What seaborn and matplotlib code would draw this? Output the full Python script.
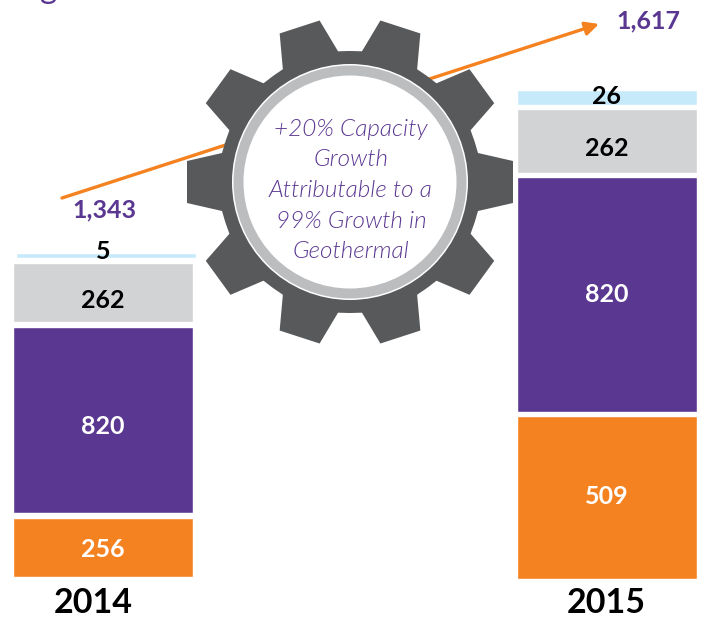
import matplotlib
matplotlib.use('Agg')
import matplotlib.pyplot as plt
from matplotlib.patches import Circle, Polygon
from matplotlib.transforms import ScaledTranslation
import numpy as np
import seaborn as sns

sns.set_style('white')
plt.rcParams['font.family'] = ['Lato', 'DejaVu Sans']

years = ['2014', '2015']
sources = ['orange', 'purple', 'gray', 'blue']

# printed labels
labels_2014 = [256, 820, 262, 5]
labels_2015 = [509, 820, 262, 26]
totals = ['1,343', '1,617']

# the bars are not to scale in the original, so heights are read off the picture
heights_2014 = [59, 186, 59, 5.5]
heights_2015 = [163, 235, 64, 15]

colors = ['#F58220', '#5A3791', '#D1D3D4', '#C7EAFB']
text_colors = ['white', 'white', 'black', 'black']
purple = '#5A3791'

W, H = 702, 621
BASE = 579

fig = plt.figure(figsize=(W / 100, H / 100), dpi=100)
ax = fig.add_axes([0, (H - BASE) / H, 1, BASE / H])

# labels do not sit exactly mid segment
nudge_2014 = [0, -4, -6, 6]
nudge_2015 = [3, 2, -5, 3]

# stacked bars, small white gap between segments
bottom = np.array([2.0, 0.0])
gaps = [5, 4]
for s in range(4):
    h = np.array([heights_2014[s], heights_2015[s]], dtype=float)
    sns.barplot(x=years, y=h, bottom=bottom, color=colors[s], saturation=1,
                width=180 / 504, ax=ax)
    mid = bottom + h / 2 + [nudge_2014[s], nudge_2015[s]]
    for i, lab in enumerate([labels_2014[s], labels_2015[s]]):
        ax.text(i, mid[i], str(lab), ha='center', va='center_baseline',
                color=text_colors[s], fontsize=18, fontweight='bold')
    bottom = bottom + h + np.array(gaps)

# blue strip of 2014 sits a bit to the right
blue = ax.containers[-1][0]
blue.set_x(blue.get_x() + 3 / 504)

ax.set_xlim(-102.75 / 504, (W - 102.75) / 504)
ax.set_ylim(0, BASE)
ax.set_yticks([])
ax.tick_params(axis='x', length=0, pad=6)
ax.set_xticks([0, 1], years, fontsize=24.5, fontweight='bold', color='black')
ax.get_xticklabels()[0].set_transform(ax.get_xticklabels()[0].get_transform()
                                      + ScaledTranslation(-9 / 100, 0, fig.dpi_scale_trans))
sns.despine(ax=ax, left=True, bottom=True)

# overlay in pixel coordinates for the gear and the arrow
ov = fig.add_axes([0, 0, 1, 1], facecolor='none')
ov.set_xlim(0, W)
ov.set_ylim(H, 0)
ov.axis('off')

ov.annotate('', xy=(599, 24), xytext=(62, 198),
            arrowprops=dict(arrowstyle='-|>,head_length=0.8,head_width=0.4', color='#F58220',
                            lw=2.4, shrinkA=0, shrinkB=0))

cx, cy = 350, 182
pts = []
for a in np.arange(10) * 36.0:
    t = np.radians(a)
    rot = np.array([[np.cos(t), -np.sin(t)], [np.sin(t), np.cos(t)]])
    for p in [(128, -29), (163, -21), (163, 21), (128, 29)]:
        pts.append(rot @ np.array(p))
    # root arc to next tooth
    a0 = np.degrees(np.arctan2(29, 128))
    for b in np.linspace(a + a0, a + 36 - a0, 6)[1:-1]:
        pts.append(131 * np.array([np.cos(np.radians(b)), np.sin(np.radians(b))]))
pts = np.array(pts) + [cx, cy]
ov.add_patch(Polygon(pts, closed=True, facecolor='#58595B', edgecolor='none', zorder=3))
ov.add_patch(Circle((cx, cy), 118, facecolor='white', edgecolor='none', zorder=4))
ov.add_patch(Circle((cx, cy), 116.5, facecolor='#BCBDBF', edgecolor='none', zorder=5))
ov.add_patch(Circle((cx, cy), 106.5, facecolor='white', edgecolor='none', zorder=6))

ov.text(351, 190.5, '+20% Capacity\nGrowth\nAttributable to a\n99% Growth in\nGeothermal',
        ha='center', va='center', color=purple, fontsize=17.5, fontstyle='italic',
        fontweight=300, linespacing=1.56, zorder=7)

ov.text(104, 210, totals[0], ha='center', va='center', color=purple, fontsize=18, fontweight='bold')
ov.text(648, 21, totals[1], ha='center', va='center', color=purple, fontsize=18, fontweight='bold')

# bit of the cropped title at the top edge
ov.text(49, -1.5, 'g', ha='center', va='baseline', color=purple, fontsize=24,
        fontweight='normal', clip_on=False)

fig.savefig('out.png', dpi=100)
